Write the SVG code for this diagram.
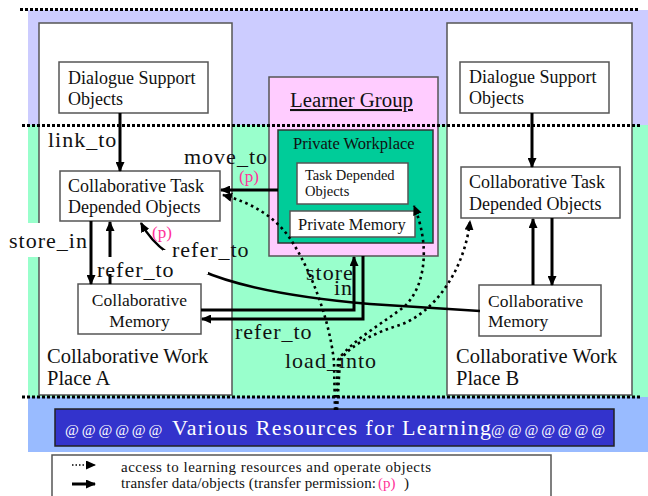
<svg xmlns="http://www.w3.org/2000/svg" width="648" height="496" viewBox="0 0 648 496" font-family="'Liberation Serif', 'DejaVu Serif', serif">
<defs>
<marker id="ah" viewBox="0 0 10 9" refX="9" refY="4.5" markerWidth="10" markerHeight="9" markerUnits="userSpaceOnUse" orient="auto"><path d="M0,0 L10,4.5 L0,9 z" fill="#000"/></marker>
</defs>
<style>
text{font-family:'Liberation Serif','DejaVu Serif',serif;fill:#111}
.box{fill:#fff;stroke:#555;stroke-width:1.5}
.sep{stroke:#000;stroke-width:3;stroke-dasharray:3 2;fill:none}
.arr{stroke:#000;stroke-width:3;fill:none;marker-end:url(#ah)}
.dot{stroke:#000;stroke-width:2.6;stroke-dasharray:2.6 3.6;fill:none;marker-end:url(#ah)}
.lbl{font-size:22px;letter-spacing:1px}
.n18{font-size:18px}
.n17{font-size:17.5px}
.n20{font-size:20.5px}
.pk{fill:#ff3399;font-size:17px}
.wbg{fill:#fff}
</style>
<g id="background">
<rect x="0" y="0" width="648" height="496" fill="#fff"/>
<rect x="28" y="10" width="620" height="115" fill="#ccccff"/>
<rect x="28" y="125" width="620" height="272" fill="#99ffcc"/>
<rect x="28" y="397" width="620" height="55" fill="#99bbff"/>
</g>
<g id="placeA">
<rect class="box" x="39" y="23" width="193" height="372"/>
<text class="n20" x="47" y="363">Collaborative Work</text>
<text class="n20" x="47" y="385">Place A</text>
</g>
<g id="placeB">
<rect class="box" x="447" y="23" width="185" height="372"/>
<text class="n20" x="456" y="363">Collaborative Work</text>
<text class="n20" x="456" y="385">Place B</text>
</g>
<g id="learnerGroup">
<rect x="269" y="77" width="169" height="179" fill="#ffccff" stroke="#555" stroke-width="1.5"/>
<text x="290" y="107" font-size="20.8" text-decoration="underline">Learner Group</text>
</g>
<g id="separators">
<line class="sep" x1="20" y1="9.5" x2="640" y2="9.5"/>
<line class="sep" x1="22" y1="125.5" x2="640" y2="125.5"/>
<line class="sep" x1="22" y1="397" x2="640" y2="397"/>
</g>
<g id="privateWorkplace">
<rect x="278" y="130" width="155" height="113" fill="#00cc99" stroke="#333" stroke-width="1.5"/>
<text x="293" y="149" font-size="16.5">Private Workplace</text>
</g>
<g id="privateTaskObjects">
<rect class="box" x="297" y="163" width="111" height="41"/>
<text x="305" y="180" font-size="14.5">Task Depended</text>
<text x="305" y="196" font-size="14.5">Objects</text>
</g>
<g id="privateMemory">
<rect class="box" x="290" y="211" width="125" height="26"/>
<text x="298" y="230" font-size="16.5">Private Memory</text>
</g>
<g id="dialogueA">
<rect class="box" x="59" y="62" width="149" height="51"/>
<text class="n18" x="68" y="84">Dialogue Support</text>
<text class="n18" x="68" y="105">Objects</text>
</g>
<g id="taskA">
<rect class="box" x="60" y="171" width="160" height="50"/>
<text class="n18" x="68" y="192">Collaborative Task</text>
<text class="n18" x="68" y="213">Depended Objects</text>
</g>
<g id="memoryA">
<rect class="box" x="78" y="284" width="123" height="50"/>
<text class="n17" x="139.5" y="306" text-anchor="middle">Collaborative</text>
<text class="n17" x="139.5" y="327" text-anchor="middle">Memory</text>
</g>
<g id="dialogueB">
<rect class="box" x="460" y="62" width="149" height="51"/>
<text class="n18" x="469" y="83">Dialogue Support</text>
<text class="n18" x="469" y="104">Objects</text>
</g>
<g id="taskB">
<rect class="box" x="461" y="167" width="159" height="51"/>
<text class="n18" x="469" y="188">Collaborative Task</text>
<text class="n18" x="469" y="210">Depended Objects</text>
</g>
<g id="memoryB">
<rect class="box" x="479" y="285" width="122" height="51"/>
<text class="n17" x="488" y="307">Collaborative</text>
<text class="n17" x="488" y="327">Memory</text>
</g>
<g id="resources">
<rect x="55" y="409" width="559" height="37" fill="#3333cc" stroke="#222" stroke-width="1.5"/>
<text x="65" y="435" font-size="15" letter-spacing="2.9" style="fill:#fff">@@@@@@</text>
<text x="172" y="435" font-size="22" textLength="319" lengthAdjust="spacing" style="fill:#fff">Various Resources for Learning</text>
<text x="491" y="435" font-size="15" letter-spacing="2.9" style="fill:#fff">@@@@@@@</text>
</g>
<g id="connectors">
<path class="arr" d="M120,113 L120,171"/>
<path class="arr" d="M532,113 L532,167"/>
<path class="arr" d="M278,190 L221,190"/>
<path class="arr" d="M91,221 L91,284"/>
<path class="arr" d="M110,284 L110,222"/>
<path class="arr" d="M552,218 L552,285"/>
<path class="arr" d="M533,285 L533,219"/>
<path class="arr" d="M201,310 L354,310 L354,257"/>
<path class="arr" d="M363,256 L363,319 L202,319"/>
<path class="arr" style="stroke-width:2.5" d="M480,311 L370,304 C300,298 240,288 200,270 C180,261 156,251 141,223"/>
<path class="dot" d="M335,410 L334,362 C330,322 312,272 291,240 C276,217 252,203 223,195"/>
<path class="dot" d="M336,410 L338,360 C352,340 385,322 405,306 C426,285 430,245 414,206"/>
<path class="dot" d="M337,410 L340,360 C352,344 376,332 400,325 C436,312 465,268 470,221"/>
</g>
<g id="labels">
<rect class="wbg" x="0" y="223" width="89" height="34"/>
<rect class="wbg" x="163" y="250" width="45" height="24"/>
<rect class="wbg" x="95" y="257" width="80" height="17"/>
<text class="lbl" x="48" y="147">link_to</text>
<text class="lbl" x="184" y="164">move_to</text>
<text class="pk" x="239" y="182">(p)</text>
<text class="lbl" x="9" y="248">store_in</text>
<text class="lbl" x="172" y="257">refer_to</text>
<text class="pk" x="152" y="238">(p)</text>
<text class="lbl" x="97" y="277">refer_to</text>
<text class="lbl" x="306" y="280">store</text>
<text class="lbl" x="334" y="295">in</text>
<text class="lbl" x="235" y="339">refer_to</text>
<text class="lbl" x="285" y="368">load_into</text>
</g>
<g id="legend">
<rect x="52" y="455" width="499" height="60" fill="#fff" stroke="#555" stroke-width="1.5"/>
<path class="dot" style="stroke-width:1.5;stroke-dasharray:1.5 2" d="M72,465 L95,465"/>
<path class="arr" d="M72,484 L95,484"/>
<text x="121" y="472" font-size="15" textLength="310" lengthAdjust="spacing">access to learning resources and operate objects</text>
<text x="121" y="488" font-size="15" textLength="255" lengthAdjust="spacing">transfer data/objects (transfer permission:</text>
<text x="378" y="488" font-size="15" style="fill:#ff3399">(p)</text>
<text x="404" y="488" font-size="15">)</text>
</g>
</svg>
